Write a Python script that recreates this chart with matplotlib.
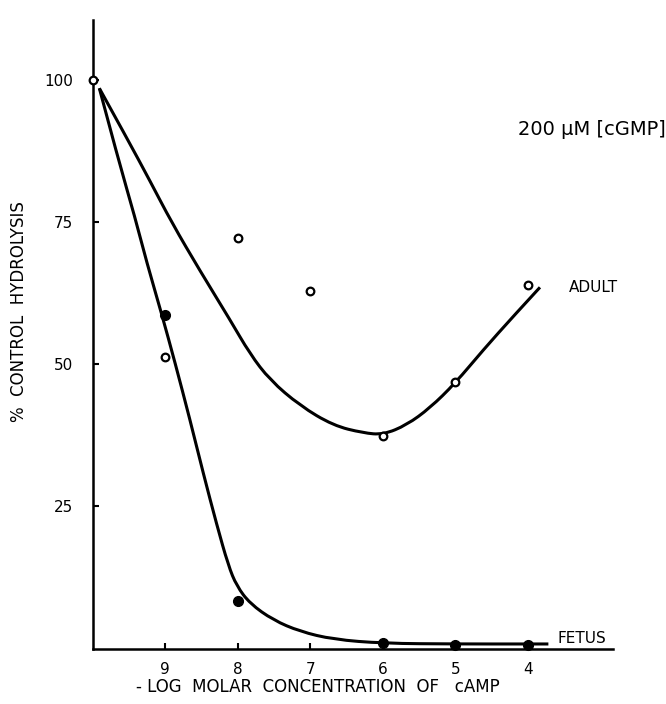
import matplotlib
matplotlib.use("Agg")
import matplotlib.pyplot as plt
from matplotlib.path import Path
from matplotlib.patches import PathPatch

# measured points (-log molar cAMP vs % control hydrolysis)
adult_x = [10, 9, 8, 7, 6, 5, 4]
adult_y = [100, 51.2, 72.2, 62.8, 37.3, 46.8, 63.9]

fetus_x = [9, 8, 6, 5, 4]
fetus_y = [58.7, 8.4, 0.9, 0.7, 0.7]

# hand-drawn curves
adult_curve_x = [9.906, 9.529, 9.208, 8.909, 8.519, 8.106, 7.831, 7.555, 7.142,
                 6.683, 6.270, 5.994, 5.672, 5.351, 5.007, 4.617, 4.204, 3.836]
adult_curve_y = [98.5, 89.8, 82.2, 74.9, 66.4, 57.8, 51.8, 47.2, 42.7,
                 39.2, 37.9, 37.6, 39.3, 42.3, 46.6, 52.5, 58.4, 63.5]

fetus_curve_x = [9.906, 9.645, 9.415, 9.253, 9.047, 8.864, 8.657, 8.474, 8.289,
                 8.129, 8.014, 7.831, 7.510, 7.142, 6.683, 5.994, 5.0, 4.0, 3.72]
fetus_curve_y = [98.5, 86.0, 75.8, 67.9, 58.8, 50.3, 40.2, 30.8, 21.8,
                 14.6, 11.0, 7.9, 5.0, 3.0, 1.6, 0.9, 0.8, 0.8, 0.8]

x_ticks = [9, 8, 7, 6, 5, 4]
y_ticks = [25, 50, 75, 100]


def smooth_path(xs, ys):
    # quadratic b-spline through the traced points, drawn by matplotlib
    pts = list(zip(xs, ys))
    verts = [pts[0]]
    codes = [Path.MOVETO]
    for i in range(1, len(pts) - 1):
        mid = ((pts[i][0] + pts[i + 1][0]) / 2, (pts[i][1] + pts[i + 1][1]) / 2)
        if i == len(pts) - 2:
            mid = pts[-1]
        verts += [pts[i], mid]
        codes += [Path.CURVE3, Path.CURVE3]
    return Path(verts, codes)


plt.rcParams['font.family'] = ['DejaVu Sans']

fig = plt.figure(figsize=(6.66, 7.04), dpi=100)
ax = fig.add_axes([0.1389, 0.0788, 0.7815, 0.8928])

for cx, cy in [(adult_curve_x, adult_curve_y), (fetus_curve_x, fetus_curve_y)]:
    ax.add_patch(PathPatch(smooth_path(cx, cy), facecolor='none',
                           edgecolor='black', lw=2.2))

ax.plot(adult_x, adult_y, 'o', ms=5.5, mfc='white', mec='black', mew=1.6,
        clip_on=False, zorder=5)
ax.plot(fetus_x, fetus_y, 'o', ms=7, mfc='black', mec='black',
        clip_on=False, zorder=5)

ax.set_xlim(10, 2.83)
ax.set_ylim(0, 110.5)

ax.spines['top'].set_visible(False)
ax.spines['right'].set_visible(False)
for s in ('left', 'bottom'):
    ax.spines[s].set_linewidth(1.8)

ax.set_xticks(x_ticks)
ax.set_yticks(y_ticks)
ax.tick_params(axis='both', direction='in', length=4, width=1.5, labelsize=11)
ax.tick_params(axis='y', pad=14)
ax.tick_params(axis='x', pad=10)

ax.text(4.14, 91.2, '200 µM [cGMP]', fontsize=14, va='center', ha='left')
ax.text(3.433, 63.5, 'ADULT', fontsize=11, va='center', ha='left')
ax.text(3.59, 1.7, 'FETUS', fontsize=11, va='center', ha='left')

fig.text(0.478, 0.024, '- LOG  MOLAR  CONCENTRATION  OF   cAMP',
         fontsize=12, ha='center', va='center')
fig.text(0.0285, 0.5575, '%  CONTROL  HYDROLYSIS', fontsize=12,
         rotation=90, ha='center', va='center')

fig.savefig('out.png', dpi=100)
